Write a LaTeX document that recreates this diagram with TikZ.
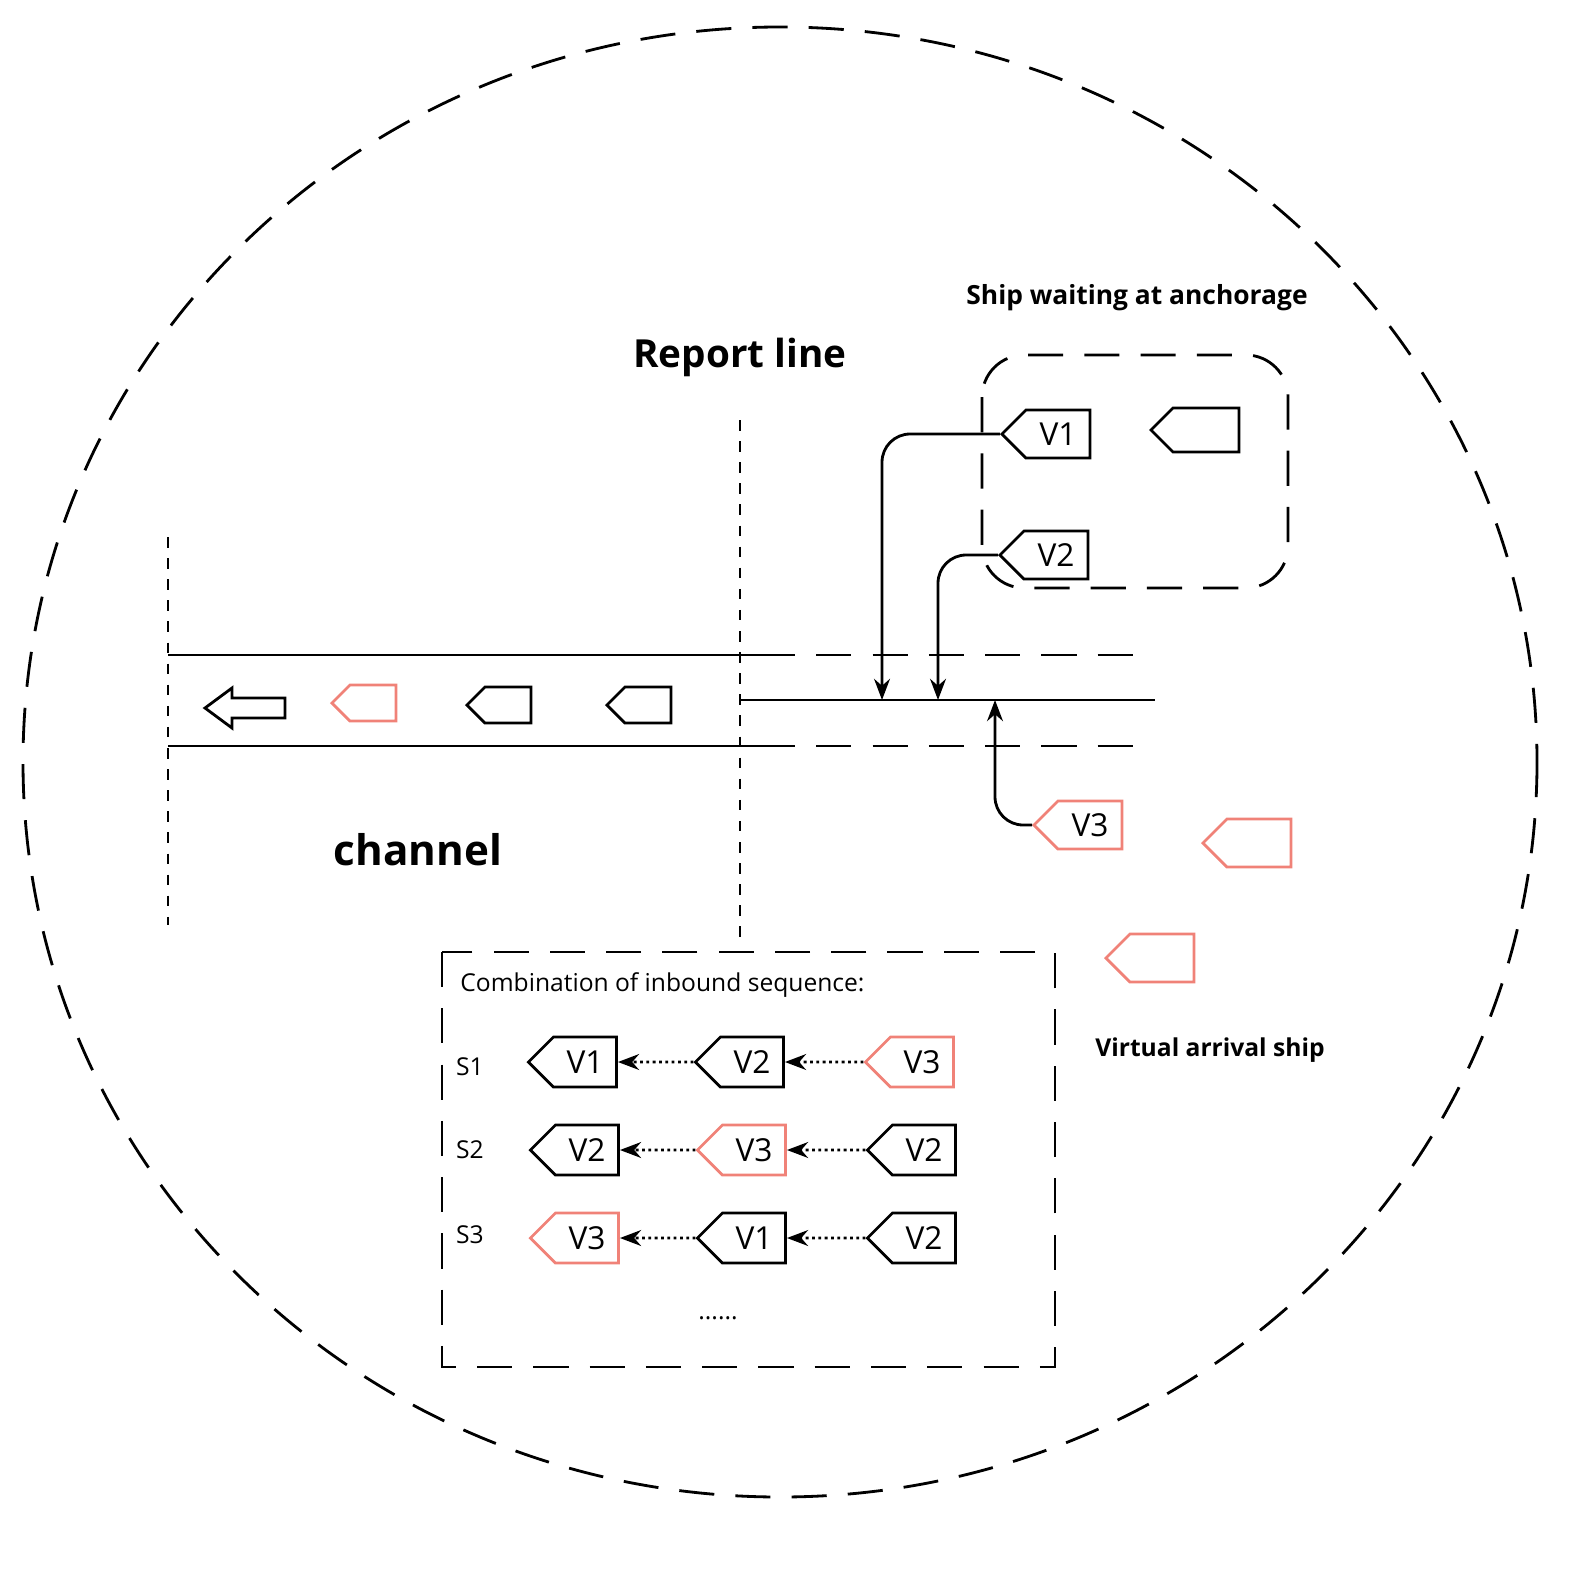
\documentclass[tikz,border=0pt]{standalone}
\usepackage{fontspec}
\setmainfont{Open Sans}
\usetikzlibrary{shapes.symbols,arrows.meta}
\definecolor{shipred}{RGB}{240,130,120}
\tikzset{
  ship/.style={signal, signal to=west, draw, thick, inner sep=0pt,
    minimum width=0.88cm, minimum height=0.48cm, font=\fontsize{9}{9}\selectfont},
  small ship/.style={ship, minimum width=0.64cm, minimum height=0.36cm},
  virtual/.style={draw=shipred},
  link/.style={thick, -{Stealth[length=6pt]}},
  seq/.style={densely dotted, thick, -{Stealth[length=6pt]}},
  bound/.style={dashed, thick, dash pattern=on 10pt off 6pt},
  lbl/.style={font=\fontsize{7}{9}\selectfont}
}
\begin{document}
\begin{tikzpicture}[x=0.01cm, y=-0.01cm]
  % outer region
  \draw[bound] (780,762) ellipse [x radius=757, y radius=735];

  % channel
  \draw[thick] (168,655) -- (760,655);
  \draw[thick] (168,746) -- (760,746);
  \draw[bound] (760,655) -- (1140,655);
  \draw[bound] (760,746) -- (1140,746);
  \draw[thick] (740,700) -- (1155,700);
  \draw[dashed, thick] (168,537) -- (168,925);
  \draw[dashed, thick] (740,420) -- (740,945);
  \draw[thick] (205,708) -- (232,688) -- (232,698) -- (285,698) -- (285,718)
    -- (232,718) -- (232,728) -- cycle;
  \node[small ship, virtual] (c1) at (373,703) {};
  \node[small ship] (c2) at (508,705) {};
  \node[small ship] (c3) at (648,705) {};
  \node[font=\fontsize{12}{12}\selectfont\bfseries] (chan) at (418,850) {channel};
  \node[font=\fontsize{11}{11}\selectfont\bfseries] (rep) at (740,357) {Report line};

  % anchorage
  \draw[bound, rounded corners=12pt] (982,355) rectangle (1288,588);
  \node[font=\fontsize{7.5}{9}\selectfont\bfseries] (anch) at (1137,298) {Ship waiting at anchorage};
  \node[ship] (v1) at (1058,434) {V1};
  \node[ship, minimum height=0.44cm] (w2) at (1206,430) {};
  \node[ship] (v2) at (1056,555) {V2};
  \coordinate (in1) at (882,700);
  \coordinate (in2) at (938,700);
  \coordinate (in3) at (995,700);
  \draw[link, rounded corners=8pt] (v1.west) -| (in1);
  \draw[link, rounded corners=8pt] (v2.west) -| (in2);

  % virtual arrivals
  \node[ship, virtual] (v3) at (1090,825) {V3};
  \node[ship, virtual] (r1) at (1259,843) {};
  \node[ship, virtual] (r2) at (1162,958) {};
  \draw[link, rounded corners=8pt] (v3.west) -| (in3);
  \node[font=\fontsize{7}{9}\selectfont\bfseries] (virt) at (1210,1050) {Virtual arrival ship};

  % sequences
  \draw[bound] (442,952) rectangle (1055,1367);
  \node[lbl, anchor=west] (comb) at (448,985) {Combination of inbound sequence:};
  \node[lbl] (s1) at (470,1067) {S1};
  \node[lbl] (s2) at (470,1150) {S2};
  \node[lbl] (s3) at (470,1235) {S3};
  \node[ship, minimum height=0.5cm] (a1) at (585,1062) {V1};
  \node[ship, minimum height=0.5cm] (a2) at (752,1062) {V2};
  \node[ship, minimum height=0.5cm, virtual] (a3) at (922,1062) {V3};
  \node[ship, minimum height=0.5cm] (b1) at (587,1150) {V2};
  \node[ship, minimum height=0.5cm, virtual] (b2) at (754,1150) {V3};
  \node[ship, minimum height=0.5cm] (b3) at (924,1150) {V2};
  \node[ship, minimum height=0.5cm, virtual] (d1) at (587,1238) {V3};
  \node[ship, minimum height=0.5cm] (d2) at (754,1238) {V1};
  \node[ship, minimum height=0.5cm] (d3) at (924,1238) {V2};
  \draw[seq] (a2) -- (a1);
  \draw[seq] (a3) -- (a2);
  \draw[seq] (b2) -- (b1);
  \draw[seq] (b3) -- (b2);
  \draw[seq] (d2) -- (d1);
  \draw[seq] (d3) -- (d2);
  \node[lbl] (more) at (718,1318) {......};
  \pgfresetboundingbox
  \useasboundingbox (0,0) rectangle (1595,1570);
\end{tikzpicture}
\end{document}
